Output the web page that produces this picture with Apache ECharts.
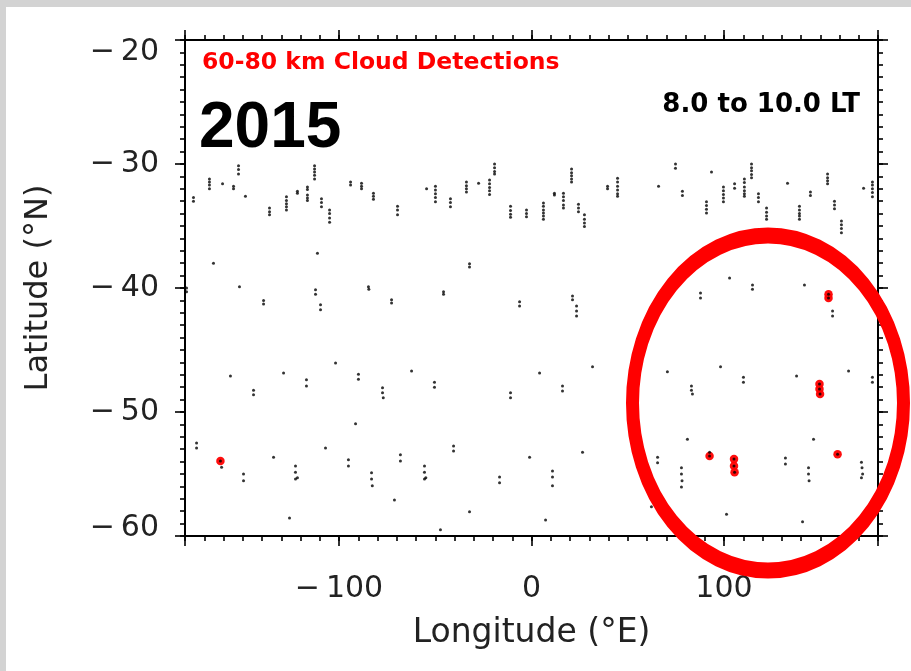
<!DOCTYPE html>
<html>
<head>
<meta charset="utf-8">
<title>60-80 km Cloud Detections 2015</title>
<script src="https://cdn.jsdelivr.net/npm/echarts@6/dist/echarts.min.js"></script>
<style>
  html, body { margin: 0; padding: 0; background: #ffffff; }
  #chart { width: 911px; height: 671px; }
</style>
</head>
<body>
<div id="chart"></div>
<script>
// Cloud detections, 8.0 to 10.0 local time, 2015.
// Near -30 deg the detections come in short along-track runs: [lon, lat, lat, ...]
const band30Runs = [
  [-175.6, -32.7, -33.0],
  [-167.3, -31.2, -31.45, -31.7, -32.0],
  [-160.5, -31.6],
  [-154.8, -31.8, -32.0],
  [-152.2, -30.15, -30.45, -30.8],
  [-148.6, -32.6],
  [-136.1, -33.55, -33.85, -34.1],
  [-127.3, -32.65, -32.95, -33.2, -33.45, -33.7],
  [-121.6, -32.2, -32.35],
  [-116.4, -31.85, -32.05, -32.5, -32.75, -32.95],
  [-112.7, -30.15, -30.4, -30.65, -30.9, -31.2],
  [-109.1, -32.8, -33.1, -33.45],
  [-104.9, -33.7, -34.0, -34.35, -34.7],
  [-94.0, -31.45, -31.7],
  [-88.3, -31.55, -31.8, -32.0],
  [-82.1, -32.35, -32.6, -32.85],
  [-69.6, -33.4, -33.7, -34.1],
  [-54.5, -32.0],
  [-49.9, -31.8, -32.1, -32.4, -32.7, -33.05],
  [-42.1, -32.8, -33.1, -33.45],
  [-33.8, -31.45, -31.75, -32.0, -32.25],
  [-27.5, -31.55],
  [-21.8, -31.3, -31.6, -31.9, -32.15, -32.45],
  [-19.2, -30.0, -30.3, -30.6, -30.8],
  [-10.9, -33.4, -33.75, -34.05, -34.3],
  [-2.6, -33.7, -34.0, -34.25],
  [6.2, -33.15, -33.4, -33.7, -33.95, -34.2, -34.45],
  [11.9, -32.35, -32.5],
  [16.6, -32.35, -32.65, -32.95, -33.3, -33.55],
  [20.8, -30.4, -30.7, -30.95, -31.2, -31.45],
  [24.4, -33.25, -33.55, -33.85],
  [27.5, -34.1, -34.45, -34.75, -35.05],
  [39.5, -31.8, -32.0],
  [44.7, -31.15, -31.45, -31.8, -32.1, -32.4, -32.6],
  [66.0, -31.8],
  [74.8, -30.0, -30.35],
  [78.4, -32.2, -32.55],
  [90.9, -33.05, -33.35, -33.65, -33.95],
  [93.5, -30.65],
  [99.7, -31.85, -32.15, -32.45, -32.75, -33.05],
  [105.5, -31.6, -31.95],
  [110.6, -31.2, -31.5, -31.85, -32.15, -32.4, -32.6],
  [114.3, -30.0, -30.3, -30.55, -30.85, -31.1],
  [117.9, -32.4, -32.7, -33.05],
  [122.1, -33.55, -33.9, -34.2, -34.45],
  [133.0, -31.55],
  [139.2, -33.4, -33.7, -34.0, -34.2, -34.45],
  [144.9, -32.25, -32.55],
  [153.8, -30.8, -31.1, -31.35, -31.6],
  [157.4, -33.0, -33.3, -33.6],
  [161.0, -34.6, -34.9, -35.2, -35.55],
  [172.5, -31.95],
  [177.1, -31.45, -31.7, -32.0, -32.3, -32.65]
];

// Detections near -40 deg: [lon, lat]
const band40Points = [
  [-179.2, -40.0], [-179.2, -40.3], [-165.2, -38.0], [-151.7, -39.9],
  [-139.2, -41.0], [-139.2, -41.3], [-111.2, -37.2], [-112.2, -40.15],
  [-112.2, -40.5], [-109.6, -41.35], [-109.6, -41.75], [-84.7, -39.9],
  [-84.5, -40.1], [-72.7, -40.95], [-72.7, -41.2], [-45.7, -40.3],
  [-45.7, -40.5], [-32.2, -38.05], [-32.2, -38.3], [-6.2, -41.1],
  [-6.2, -41.45], [21.3, -40.65], [21.3, -40.95], [23.4, -41.45],
  [23.4, -41.85], [23.4, -42.25], [87.8, -40.4], [87.8, -40.8],
  [102.9, -39.2], [114.8, -39.75], [114.8, -40.1], [141.8, -39.75],
  [156.4, -41.85], [156.4, -42.25]
];

// Detections near -47 deg: [lon, lat]
const band47Points = [
  [-156.4, -47.1], [-144.4, -48.25], [-144.4, -48.6], [-128.8, -46.85],
  [-116.9, -47.4], [-116.9, -47.9], [-101.8, -46.05], [-89.9, -46.95],
  [-89.9, -47.35], [-77.4, -48.05], [-77.4, -48.45], [-77.0, -48.85],
  [-62.3, -46.7], [-50.4, -47.6], [-50.4, -48.0], [-10.9, -48.45],
  [-10.9, -48.85], [4.2, -46.85], [16.1, -47.9], [16.1, -48.3],
  [31.7, -46.35], [70.6, -46.75], [83.1, -47.9], [83.1, -48.25],
  [83.6, -48.55], [98.2, -46.35], [110.1, -47.2], [110.1, -47.6],
  [137.7, -47.1], [164.7, -46.7], [177.1, -47.2], [177.1, -47.6]
];

// Detections near -54 deg: [lon, lat]
const band54Points = [
  [-174.0, -52.5], [-174.0, -52.9], [-161.0, -54.45], [-149.6, -55.0],
  [-149.6, -55.55], [-134.0, -53.65], [-125.7, -58.55], [-122.6, -54.35],
  [-122.6, -54.85], [-122.6, -55.4], [-121.6, -55.3], [-107.0, -52.9],
  [-95.1, -53.85], [-95.1, -54.35], [-91.4, -50.95], [-83.1, -54.9],
  [-83.1, -55.4], [-82.7, -55.95], [-71.2, -57.1], [-68.1, -53.45],
  [-68.1, -53.95], [-55.6, -54.35], [-55.6, -54.85], [-55.6, -55.4],
  [-54.9, -55.3], [-47.3, -59.5], [-40.5, -52.75], [-40.5, -53.15],
  [-32.2, -58.05], [-16.6, -55.25], [-16.6, -55.7], [-1.0, -53.65],
  [7.3, -58.7], [10.9, -54.75], [10.9, -55.25], [10.9, -55.95],
  [26.5, -53.25], [62.3, -57.65], [65.5, -53.65], [65.5, -54.1],
  [77.9, -54.5], [77.9, -55.0], [78.2, -55.55], [77.9, -56.05],
  [81.0, -52.2], [92.5, -53.25], [101.3, -58.25], [131.9, -53.7],
  [131.9, -54.2], [140.8, -58.85], [143.9, -54.5], [143.9, -55.0],
  [144.2, -55.55], [146.5, -52.2], [171.4, -54.05], [171.7, -54.5],
  [172.0, -55.0], [171.4, -55.3]
];

// Highlighted detections (drawn in red with the black detection on top): [lon, lat]
const highlightedPoints = [
  [154.3, -40.5], [154.3, -40.8],
  [149.6, -47.75], [149.6, -48.15], [149.9, -48.55],
  [-161.6, -53.95], [92.5, -53.55],
  [105.2, -53.8], [105.2, -54.35], [105.5, -54.85],
  [159.0, -53.4]
];

// Axis ticks and labels
const lonRange = [-180, 180];
const latRange = [-60, -20];
const lonMajorTicks = [-180, -100, 0, 100, 180];
const lonLabels = [-100, 0, 100];

// Expand the along-track runs into single detections
const runPoints = [];
band30Runs.forEach(function (run) {
  for (let i = 1; i < run.length; i++) runPoints.push([run[0], run[i]]);
});
const allBlack = runPoints.concat(band40Points, band47Points, band54Points, highlightedPoints);

const chart = echarts.init(document.getElementById('chart'), null, { renderer: 'canvas' });

const signed = function (v) { return v < 0 ? '\u2212\u2009' + Math.abs(v) : String(v); };
// End labels of the latitude axis sit inside the frame, as in the IDL layout
const latFmt = function (v) {
  if (v === latRange[1]) return '{top|' + signed(v) + '}';
  if (v === latRange[0]) return '{bot|' + signed(v) + '}';
  return signed(v);
};
const labelFont = { fontFamily: 'DejaVu Sans', fontSize: 30, color: '#222222' };
const lineStyle = { color: '#000000', width: 2 };
const tickStyle = { color: '#000000', width: 1.6 };

function xAxisDef(position, major, withLabels) {
  const ax = {
    type: 'value', position: position, gridIndex: 0,
    min: lonRange[0], max: lonRange[1],
    axisLine: { show: !major, lineStyle: lineStyle, onZero: false },
    axisTick: { show: true, inside: false, length: major ? 10 : 5, lineStyle: tickStyle },
    axisLabel: { show: false },
    splitLine: { show: false }
  };
  if (major) {
    ax.axisTick.customValues = lonMajorTicks;
  } else {
    ax.interval = 10;
  }
  if (withLabels) {
    ax.axisLabel = Object.assign({ show: true, margin: 38, customValues: lonLabels, formatter: signed }, labelFont);
    ax.name = 'Longitude (\u00B0E)';
    ax.nameLocation = 'middle';
    ax.nameGap = 81;
    ax.nameTextStyle = { fontFamily: 'DejaVu Sans', fontSize: 33, color: '#222222' };
  }
  return ax;
}

function yAxisDef(position, major, withLabels) {
  const ax = {
    type: 'value', position: position, gridIndex: 0,
    min: latRange[0], max: latRange[1],
    interval: major ? 10 : 1,
    axisLine: { show: !major, lineStyle: lineStyle, onZero: false },
    axisTick: { show: true, inside: false, length: major ? 10 : 5, lineStyle: tickStyle },
    axisLabel: { show: false },
    splitLine: { show: false }
  };
  if (withLabels) {
    ax.axisLabel = Object.assign({
      show: true, margin: 26, formatter: latFmt,
      rich: {
        top: { fontFamily: 'DejaVu Sans', fontSize: 30, color: '#222222', padding: [24, 0, 0, 0] },
        bot: { fontFamily: 'DejaVu Sans', fontSize: 30, color: '#222222', padding: [0, 0, 16, 0] }
      }
    }, labelFont);
    ax.name = 'Latitude (\u00B0N)';
    ax.nameLocation = 'middle';
    ax.nameRotate = 90;
    ax.nameGap = 130;
    ax.nameTextStyle = { fontFamily: 'DejaVu Sans', fontSize: 32, color: '#222222' };
  }
  return ax;
}

const option = {
  backgroundColor: '#ffffff',
  animation: false,
  grid: { left: 185, right: 33, top: 40, bottom: 135, containLabel: false, outerBoundsMode: 'none' },
  xAxis: [
    xAxisDef('bottom', false, false),
    xAxisDef('bottom', true, true),
    xAxisDef('top', false, false),
    xAxisDef('top', true, false)
  ],
  yAxis: [
    yAxisDef('left', false, false),
    yAxisDef('left', true, true),
    yAxisDef('right', false, false),
    yAxisDef('right', true, false)
  ],
  series: [
    {
      name: 'Highlighted', type: 'scatter', xAxisIndex: 0, yAxisIndex: 0,
      data: highlightedPoints, symbol: 'circle', symbolSize: 8.5,
      itemStyle: { color: '#ff0000', opacity: 0.95 }, z: 3, silent: true
    },
    {
      name: 'Cloud detections', type: 'scatter', xAxisIndex: 0, yAxisIndex: 0,
      data: allBlack, symbol: 'circle', symbolSize: 3,
      itemStyle: { color: '#000000' }, z: 4, silent: true
    }
  ],
  graphic: [
    { type: 'rect', left: 0, top: 0, shape: { width: 911, height: 7 }, style: { fill: '#d3d3d3' }, z: 0, silent: true },
    { type: 'rect', left: 0, top: 0, shape: { width: 6, height: 671 }, style: { fill: '#d3d3d3' }, z: 0, silent: true },
    {
      type: 'text', x: 202, y: 63, z: 10, silent: true,
      style: { text: '60-80 km Cloud Detections', fill: '#ff0000', font: 'bold 23.5px "DejaVu Sans"', textAlign: 'left', textVerticalAlign: 'middle' }
    },
    {
      type: 'text', x: 199, y: 129, z: 10, silent: true,
      style: { text: '2015', fill: '#000000', font: 'bold 64px "Liberation Sans", Arial', textAlign: 'left', textVerticalAlign: 'middle' }
    },
    {
      type: 'text', x: 860, y: 105, z: 10, silent: true,
      style: { text: '8.0 to 10.0 LT', fill: '#000000', font: 'bold 26px "DejaVu Sans"', textAlign: 'right', textVerticalAlign: 'middle' }
    },
    {
      type: 'circle', x: 768, y: 403, z: 20, silent: true,
      scaleX: 1, scaleY: 167.5 / 135.5,
      shape: { cx: 0, cy: 0, r: 135.5 },
      style: { fill: 'none', stroke: '#ff0000', lineWidth: 13, strokeNoScale: true }
    }
  ]
};

chart.setOption(option);
</script>
</body>
</html>
